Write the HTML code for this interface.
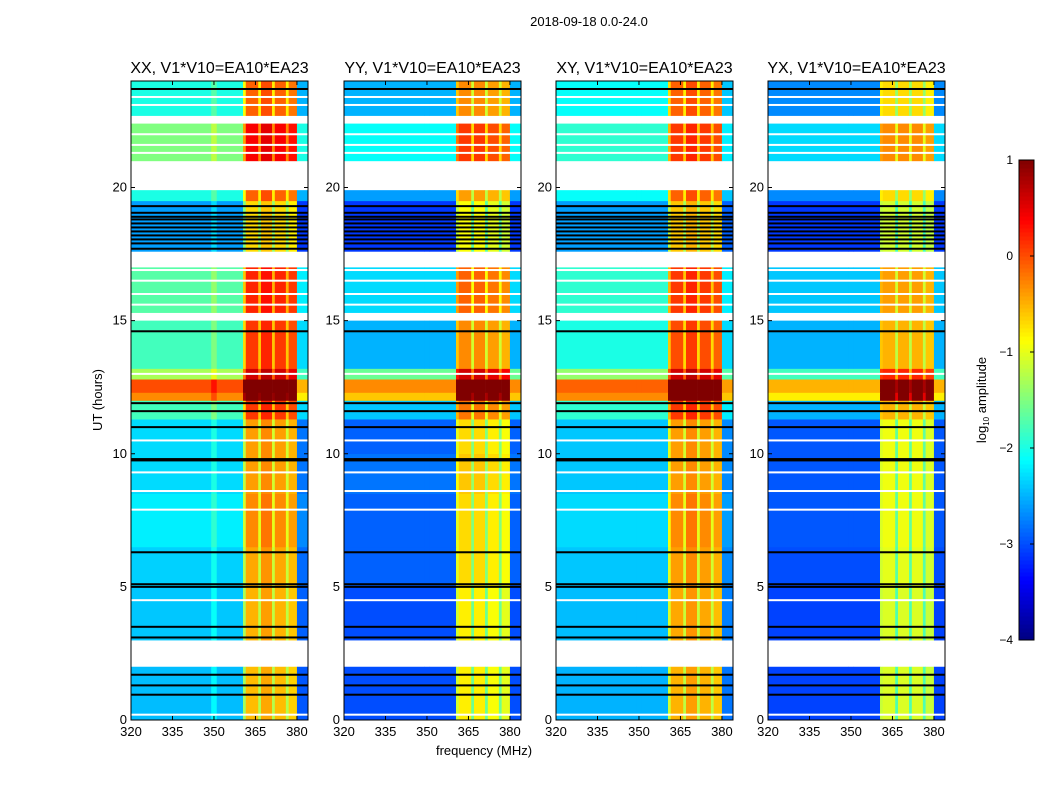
<!DOCTYPE html>
<html><head><meta charset="utf-8">
<style>
body{margin:0;background:#fff;}
svg text{font-family:"Liberation Sans",sans-serif;fill:#000;}
</style></head>
<body>
<svg id="chart" width="1050" height="800" xmlns="http://www.w3.org/2000/svg">
<text x="589" y="26" font-size="13" text-anchor="middle">2018-09-18 0.0-24.0</text>
<text x="484" y="755" font-size="13" text-anchor="middle">frequency (MHz)</text>
<text x="0" y="0" font-size="13" text-anchor="middle" transform="translate(102,400) rotate(-90)">UT (hours)</text>
<text x="0" y="0" font-size="13" text-anchor="middle" transform="translate(986,400) rotate(-90)">log<tspan font-size="8" dy="3">10</tspan><tspan dy="-3"> amplitude</tspan></text>
<g id="panels"></g>
<g id="cbar"></g>
</svg>
<script>
const panelTitles = ["XX, V1*V10=EA10*EA23","YY, V1*V10=EA10*EA23","XY, V1*V10=EA10*EA23","YX, V1*V10=EA10*EA23"];
const timeEdges = [0,2,3,5,6.5,8.5,10,11.3,12,12.3,12.8,13.2,15,15.3,17,17.6,19.5,19.9,21,22.4,22.7,24];
const bgXX = [-2.45,null,-2.4,-2.35,-2.2,-2.3,-2.3,-1.8,-0.3,0.0,-1.3,-1.8,null,-1.7,null,-2.6,-2.0,null,-1.5,null,-2.0];
const bgYY = [-3.0,null,-3.0,-2.9,-2.9,-2.8,-2.9,-2.4,-0.6,-0.3,-1.6,-2.5,null,-2.3,null,-3.1,-2.6,null,-2.1,null,-2.5];
const bgXY = [-2.5,null,-2.45,-2.4,-2.3,-2.4,-2.4,-1.9,-0.3,-0.1,-1.4,-2.0,null,-1.9,null,-2.6,-2.1,null,-1.9,null,-2.1];
const bgYX = [-3.05,null,-3.05,-3.0,-2.95,-2.95,-2.95,-2.5,-0.8,-0.5,-1.8,-2.5,null,-2.4,null,-3.1,-2.7,null,-2.3,null,-2.7];
const freqEdges = [320,349,351,360.5,361.5,366,367,371,372,376,377,380,384];
const shapeXX = [0,0.3,0,1.1,1.9,1.2,2.0,1.2,1.9,1.2,1.8,-0.5];
const shapeYY = [0,0,0,1.9,2.2,1.4,2.2,1.4,2.1,1.4,2.0,0];
const shapeXY = [0,0,0,1.4,2.0,1.3,2.1,1.3,2.0,1.3,1.9,-0.3];
const shapeYX = [0,0,0,1.9,2.0,1.3,2.0,1.3,2.0,1.3,1.9,0];
const blackLines = [23.7,19.3,19.05,18.9,18.8,18.65,18.5,18.35,18.2,18.05,17.9,17.7,14.6,11.9,11.6,11.0,9.8,9.75,6.3,5.1,5.0,3.5,3.1,1.7,1.3,0.95];
const whiteLines = [23.4,23.1,22.0,21.6,21.3,16.9,16.5,16.0,15.6,13.0,10.5,9.3,8.6,7.9,4.5,0.2];
const xTicks = [320,335,350,365,380];
const yTicks = [0,5,10,15,20];
const cbTicks = [1,0,-1,-2,-3,-4];

const bgs=[bgXX,bgYY,bgXY,bgYX], shapes=[shapeXX,shapeYY,shapeXY,shapeYX];
const panelX=[131,344,556,768], PW=177, PT=81, PB=720;
const NS='http://www.w3.org/2000/svg';
function yScale(h){return PB-(h/24)*(PB-PT);}
function xScale(p,f){return panelX[p]+(f-320)/64*PW;}
function jet(v){let t=(v+4)/5;t=Math.max(0,Math.min(1,t));
 const c=x=>Math.round(255*Math.max(0,Math.min(1,1.5-Math.abs(x))));
 return `rgb(${c(4*t-3)},${c(4*t-2)},${c(4*t-1)})`;}
function mk(tag,attrs,parent){const e=document.createElementNS(NS,tag);for(const k in attrs)e.setAttribute(k,attrs[k]);parent.appendChild(e);return e;}
const root=document.getElementById('panels');
for(let p=0;p<4;p++){
 const g=mk('g',{},root);
 
 
 const bg=bgs[p], sh=shapes[p];
 for(let t=0;t<bg.length;t++){
  if(bg[t]===null) continue;
  const y1=yScale(timeEdges[t+1]), y0=yScale(timeEdges[t]);
  for(let f=0;f<sh.length;f++){
   const x0=xScale(p,freqEdges[f]), x1=xScale(p,freqEdges[f+1]);
   const r=mk('rect',{x:x0,y:y1,width:x1-x0+0.3,height:y0-y1+0.3,fill:jet(bg[t]+sh[f])},g);
   
   
  }
 }
 for(const h of whiteLines){const l=mk('rect',{x:panelX[p],y:yScale(h)-1,width:PW,height:2,fill:'#fff'},g);
  
  }
 for(const h of blackLines){const l=mk('rect',{x:panelX[p],y:yScale(h)-1,width:PW,height:2,fill:'#000'},g);
  
  }
 const fr=mk('rect',{x:panelX[p],y:PT,width:PW,height:PB-PT,fill:'none',stroke:'#000','stroke-width':1},g);
 
 
 const tt=mk('text',{x:panelX[p]+PW/2,y:73,'font-size':16,'text-anchor':'middle'},g);
 tt.textContent=panelTitles[p];
 
 
 for(const v of xTicks){const x=xScale(p,v);
  mk('line',{x1:x,x2:x,y1:PB,y2:PB-4,stroke:'#000'},g);
  mk('line',{x1:x,x2:x,y1:PT,y2:PT+4,stroke:'#000'},g);
  const tx=mk('text',{x:x,y:PB+16,'font-size':13,'text-anchor':'middle'},g);
  tx.textContent=v;
  
  }
 for(const v of yTicks){const y=yScale(v);
  mk('line',{x1:panelX[p],x2:panelX[p]+4,y1:y,y2:y,stroke:'#000'},g);
  mk('line',{x1:panelX[p]+PW,x2:panelX[p]+PW-4,y1:y,y2:y,stroke:'#000'},g);
  const ty=mk('text',{x:panelX[p]-4,y:y+4,'font-size':13,'text-anchor':'end'},g);
  ty.textContent=v;
  
  }
}
const cb=document.getElementById('cbar');


const CX=1019,CW=15,CT=160,CB=640;
for(let i=0;i<120;i++){const v=-4+5*(i+0.5)/120;const y=CB-(i+1)*(CB-CT)/120;
 mk('rect',{x:CX,y:y,width:CW,height:(CB-CT)/120+0.5,fill:jet(v)},cb);}
mk('rect',{x:CX,y:CT,width:CW,height:CB-CT,fill:'none',stroke:'#000'},cb);
for(const v of cbTicks){const y=CB-(v+4)/5*(CB-CT);
 mk('line',{x1:CX+CW-4,x2:CX+CW,y1:y,y2:y,stroke:'#000'},cb);
 const t=mk('text',{x:CX-6,y:y+4,'font-size':12,'text-anchor':'end'},cb);
 t.textContent=v<0?'\u2212'+(-v):v;
 
 }
</script>
</body></html>
